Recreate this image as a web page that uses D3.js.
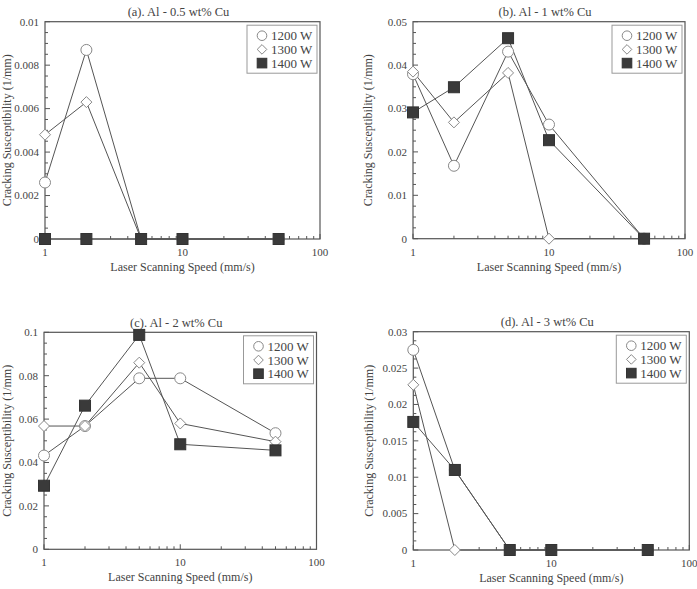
<!DOCTYPE html>
<html>
<head>
<meta charset="utf-8">
<title>Cracking susceptibility</title>
<script src="https://cdn.jsdelivr.net/npm/d3@7"></script>
<style>
  * { margin: 0; padding: 0; }
  body { background: #fff; }
  svg { display: block; }
  text { font-family: "Liberation Serif", "DejaVu Serif", serif; }
  .frame { fill: none; stroke: #555; stroke-width: 1.2; }
  .tick { stroke: #555; stroke-width: 1; }
  .lbl { fill: #444; font-size: 11px; }
  .ttl { fill: #444; font-size: 12.5px; }
  .leg { fill: #444; font-size: 13px; }
  .atitle { fill: #444; font-size: 12px; }
  .series { fill: none; stroke: #555; stroke-width: 1; }
</style>
</head>
<body>
<svg id="chart" width="697" height="589"></svg>
<script>
// laser scanning speed (mm/s)
var speeds = [1, 2, 5, 10, 50];
var powers = ["1200 W", "1300 W", "1400 W"];
var titles = ["(a). Al - 0.5 wt% Cu", "(b). Al - 1 wt% Cu", "(c). Al - 2 wt% Cu", "(d). Al - 3 wt% Cu"];
var yMax = [0.01, 0.05, 0.1, 0.03];
var yStep = [0.002, 0.01, 0.02, 0.005];

// cracking susceptibility (1/mm), one array per power
var a1200 = [0.0026, 0.0087, 0, 0, 0];
var a1300 = [0.0048, 0.0063, 0, 0, 0];
var a1400 = [0, 0, 0, 0, 0];
var b1200 = [0.0379, 0.0168, 0.0431, 0.0263, 0];
var b1300 = [0.0385, 0.0268, 0.0382, 0, 0];
var b1400 = [0.0291, 0.0349, 0.0462, 0.0227, 0];
var c1200 = [0.0432, 0.0568, 0.0788, 0.0788, 0.0535];
var c1300 = [0.0568, 0.0568, 0.086, 0.058, 0.0496];
var c1400 = [0.0293, 0.0662, 0.0988, 0.0484, 0.0456];
var d1200 = [0.0275, 0.011, 0, 0, 0];
var d1300 = [0.0227, 0, 0, 0, 0];
var d1400 = [0.0176, 0.011, 0, 0, 0];
var values = [[a1200, a1300, a1400], [b1200, b1300, b1400], [c1200, c1300, c1400], [d1200, d1300, d1400]];

// plot boxes (left, right, top, bottom)
var boxes = [
  [45, 320, 21.7, 239],
  [413, 685, 21.7, 238.7],
  [44, 316.5, 332.3, 549.3],
  [413.3, 689.3, 331.7, 550]
];

var svg = d3.select("#chart");
var fmt = d3.format("~g");

function drawMarker(g, k, x, y, s) {
  if (k == 0) {
    g.append("circle").attr("cx", x).attr("cy", y).attr("r", s)
      .attr("fill", "#fff").attr("stroke", "#888").attr("stroke-width", 1);
  } else if (k == 1) {
    g.append("path")
      .attr("d", "M" + x + "," + (y - s) + "L" + (x + s) + "," + y + "L" + x + "," + (y + s) + "L" + (x - s) + "," + y + "Z")
      .attr("fill", "#fff").attr("stroke", "#888").attr("stroke-width", 1);
  } else {
    g.append("rect").attr("x", x - s).attr("y", y - s).attr("width", 2 * s).attr("height", 2 * s)
      .attr("fill", "#3a3a3a").attr("stroke", "#333");
  }
}

boxes.forEach(function (b, p) {
  var L = b[0], R = b[1], T = b[2], B = b[3];
  var g = svg.append("g");
  var x = d3.scaleLog().domain([1, 100]).range([L, R]);
  var y = d3.scaleLinear().domain([0, yMax[p]]).range([B, T]);

  // y ticks (inward), 4 subdivisions per major step
  var minor = yStep[p] / 4;
  d3.range(0, yMax[p] + minor / 2, minor).forEach(function (v, i) {
    var major = i % 4 == 0;
    g.append("line").attr("class", "tick")
      .attr("x1", L).attr("x2", L + (major ? 5 : 3))
      .attr("y1", y(v)).attr("y2", y(v));
    if (major) {
      g.append("text").attr("class", "lbl")
        .attr("x", L - 6).attr("y", y(v)).attr("dy", "0.35em")
        .attr("text-anchor", "end").text(fmt(+v.toFixed(6)));
    }
  });

  // x ticks (inward)
  x.ticks().forEach(function (v) {
    var major = Math.abs(Math.log10(v) - Math.round(Math.log10(v))) < 1e-9;
    g.append("line").attr("class", "tick")
      .attr("x1", x(v)).attr("x2", x(v))
      .attr("y1", B).attr("y2", B - (major ? 5 : 3));
    if (major) {
      g.append("text").attr("class", "lbl")
        .attr("x", x(v)).attr("y", B + 17)
        .attr("text-anchor", "middle").text(v);
    }
  });

  g.append("rect").attr("class", "frame")
    .attr("x", L).attr("y", T).attr("width", R - L).attr("height", B - T);

  g.append("text").attr("class", "ttl")
    .attr("x", (L + R) / 2 - 4).attr("y", T - 5.5)
    .attr("text-anchor", "middle").text(titles[p]);

  g.append("text").attr("class", "atitle")
    .attr("x", (L + R) / 2).attr("y", B + 32)
    .attr("text-anchor", "middle").text("Laser Scanning Speed (mm/s)");

  g.append("text").attr("class", "atitle")
    .attr("transform", "translate(" + Math.max(L - 45, 7) + "," + ((T + B) / 2) + ") rotate(-90)")
    .attr("dy", "0.35em")
    .attr("text-anchor", "middle").text("Cracking Susceptibility (1/mm)");

  // series
  var line = d3.line().x(function (d, i) { return x(speeds[i]); }).y(function (d) { return y(d); });
  values[p].forEach(function (vals) {
    g.append("path").attr("class", "series").attr("d", line(vals));
  });
  values[p].forEach(function (vals, k) {
    vals.forEach(function (v, i) { drawMarker(g, k, x(speeds[i]), y(v), 5.5); });
  });

  // legend
  var lx = R - 73, ly = T + 3.5;
  g.append("rect").attr("x", lx).attr("y", ly).attr("width", 70).attr("height", 48)
    .attr("fill", "#fff").attr("stroke", "#999").attr("stroke-width", 1);
  powers.forEach(function (name, k) {
    var ry = ly + 10.5 + k * 13.7;
    drawMarker(g, k, lx + 15, ry, 4.8);
    g.append("text").attr("class", "leg")
      .attr("x", lx + 24).attr("y", ry).attr("dy", "0.35em").text(name);
  });
});
</script>
</body>
</html>
